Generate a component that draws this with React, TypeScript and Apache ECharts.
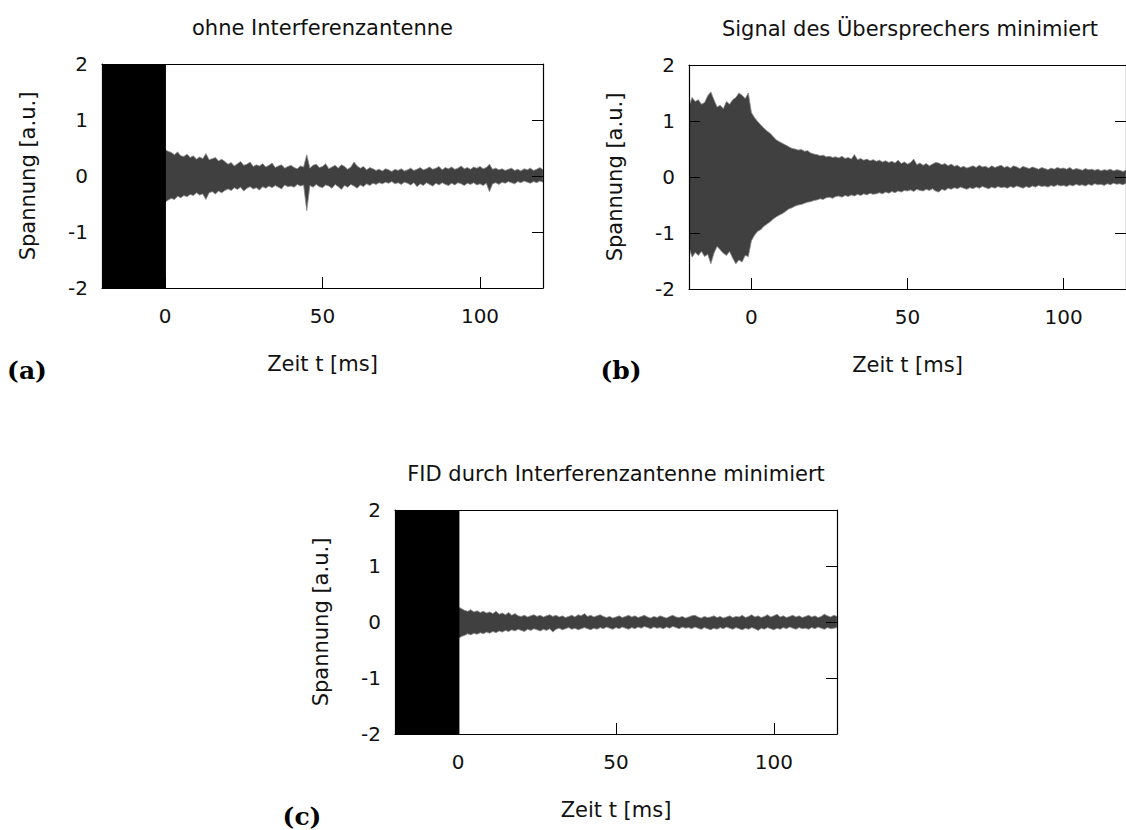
import React, { useEffect, useRef } from "react";
import * as echarts from "echarts";

// ---- Data ----
const xTicks = [0, 50, 100];
const yTicks = [-2, -1, 0, 1, 2];

const titles = [
  "ohne Interferenzantenne",
  "Signal des Übersprechers minimiert",
  "FID durch Interferenzantenne minimiert",
];
const panelTags = ["(a)", "(b)", "(c)"];

// time grid in ms for the post-trigger envelopes (panels a, c)
const timePost = [
  0, 1, 2, 3, 4, 5, 6, 7, 8, 9, 10, 11, 12, 13, 14, 15, 16, 17, 18, 19, 20,
  21, 22, 23, 24, 25, 26, 27, 28, 29, 30, 31, 32, 33, 34, 35, 36, 37, 38, 39, 40,
  41, 42, 43, 44, 45, 46, 47, 48, 49, 50, 51, 52, 53, 54, 55, 56, 57, 58, 59, 60,
  61, 62, 63, 64, 65, 66, 67, 68, 69, 70, 71, 72, 73, 74, 75, 76, 77, 78, 79, 80,
  81, 82, 83, 84, 85, 86, 87, 88, 89, 90, 91, 92, 93, 94, 95, 96, 97, 98, 99, 100,
  101, 102, 103, 104, 105, 106, 107, 108, 109, 110, 111, 112, 113, 114, 115, 116, 117, 118, 119, 120,
];
// time grid for panel b (includes pre-trigger part)
const timeFull = [
  -20, -19, -18, -17, -16, -15, -14, -13, -12, -11, -10, -9, -8, -7, -6, -5, -4, -3, -2, -1,
  ...timePost,
];

// saturated (clipped) pre-trigger block [start, end] in ms, spans the whole y range
const saturatedA = [-20, 0.3];
const saturatedC = [-20, 0.4];

// Panel (a): envelope of the signal
const upperA = [
  0.47, 0.44, 0.42, 0.38, 0.43, 0.36, 0.35, 0.39, 0.33, 0.36, 0.30, 0.34, 0.31, 0.40, 0.29, 0.31, 0.33, 0.27, 0.30, 0.26, 0.21,
  0.24, 0.18, 0.22, 0.26, 0.19, 0.21, 0.25, 0.17, 0.20, 0.18, 0.22, 0.16, 0.19, 0.23, 0.15, 0.18, 0.20, 0.14, 0.17, 0.19,
  0.15, 0.13, 0.18, 0.16, 0.38, 0.14, 0.19, 0.21, 0.15, 0.17, 0.22, 0.13, 0.16, 0.19, 0.14, 0.20, 0.17, 0.12, 0.16, 0.25,
  0.18, 0.14, 0.17, 0.11, 0.15, 0.13, 0.10, 0.12, 0.09, 0.13, 0.11, 0.08, 0.12, 0.10, 0.13, 0.09, 0.11, 0.14, 0.10, 0.12,
  0.15, 0.11, 0.13, 0.16, 0.12, 0.14, 0.17, 0.11, 0.15, 0.13, 0.16, 0.12, 0.14, 0.18, 0.13, 0.15, 0.12, 0.16, 0.14, 0.17,
  0.13, 0.15, 0.21, 0.12, 0.14, 0.11, 0.13, 0.10, 0.12, 0.14, 0.10, 0.12, 0.09, 0.13, 0.11, 0.14, 0.10, 0.12, 0.15, 0.11,
];
const lowerA = [
  -0.47, -0.43, -0.40, -0.42, -0.36, -0.39, -0.35, -0.37, -0.33, -0.35, -0.30, -0.34, -0.32, -0.42, -0.30, -0.28, -0.32, -0.27, -0.30, -0.26, -0.23,
  -0.26, -0.21, -0.24, -0.20, -0.27, -0.22, -0.19, -0.23, -0.21, -0.25, -0.19, -0.22, -0.18, -0.21, -0.17, -0.20, -0.23, -0.16, -0.19, -0.18,
  -0.20, -0.15, -0.18, -0.16, -0.62, -0.17, -0.20, -0.15, -0.19, -0.21, -0.16, -0.18, -0.22, -0.15, -0.19, -0.24, -0.17, -0.20, -0.15, -0.18,
  -0.22, -0.16, -0.19, -0.14, -0.17, -0.13, -0.15, -0.12, -0.14, -0.11, -0.13, -0.10, -0.14, -0.12, -0.15, -0.11, -0.13, -0.16, -0.12, -0.19,
  -0.14, -0.17, -0.12, -0.15, -0.18, -0.13, -0.16, -0.12, -0.15, -0.17, -0.13, -0.16, -0.12, -0.14, -0.17, -0.13, -0.15, -0.12, -0.16, -0.14,
  -0.17, -0.13, -0.28, -0.14, -0.12, -0.15, -0.11, -0.13, -0.10, -0.12, -0.14, -0.10, -0.12, -0.09, -0.11, -0.13, -0.10, -0.12, -0.09, -0.11,
];

// Panel (b): envelope of the signal (-20 .. 120 ms)
const upperB = [
  1.27, 1.42, 1.35, 1.38, 1.30, 1.33, 1.45, 1.52, 1.38, 1.25, 1.28, 1.22, 1.35, 1.30, 1.38, 1.42, 1.50, 1.46, 1.40, 1.50,
  1.15, 1.06, 0.99, 0.93, 0.87, 0.82, 0.78, 0.72, 0.66, 0.63, 0.60, 0.57, 0.54, 0.51, 0.50, 0.48, 0.49, 0.46, 0.47, 0.43, 0.41,
  0.40, 0.38, 0.39, 0.36, 0.37, 0.35, 0.36, 0.34, 0.37, 0.33, 0.35, 0.32, 0.40, 0.31, 0.33, 0.30, 0.32, 0.29, 0.31, 0.28,
  0.30, 0.27, 0.29, 0.26, 0.28, 0.25, 0.30, 0.24, 0.27, 0.23, 0.26, 0.32, 0.22, 0.25, 0.21, 0.24, 0.20, 0.23, 0.26, 0.25,
  0.22, 0.24, 0.20, 0.23, 0.19, 0.21, 0.17, 0.19, 0.16, 0.18, 0.20, 0.17, 0.21, 0.18, 0.19, 0.16, 0.20, 0.17, 0.19, 0.21,
  0.17, 0.19, 0.16, 0.20, 0.18, 0.15, 0.19, 0.17, 0.15, 0.18, 0.16, 0.14, 0.17, 0.15, 0.13, 0.16, 0.14, 0.17, 0.15, 0.16,
  0.14, 0.17, 0.13, 0.15, 0.14, 0.12, 0.15, 0.13, 0.14, 0.12, 0.14, 0.11, 0.13, 0.12, 0.14, 0.11, 0.13, 0.12, 0.10, 0.12,
];
const lowerB = [
  -1.26, -1.43, -1.35, -1.40, -1.33, -1.42, -1.38, -1.55, -1.36, -1.24, -1.30, -1.36, -1.40, -1.33, -1.45, -1.55, -1.48, -1.52, -1.40, -1.42,
  -1.14, -1.04, -0.97, -0.94, -0.88, -0.84, -0.80, -0.75, -0.71, -0.68, -0.65, -0.61, -0.57, -0.55, -0.52, -0.50, -0.49, -0.47, -0.45, -0.44, -0.42,
  -0.41, -0.39, -0.40, -0.37, -0.36, -0.38, -0.35, -0.34, -0.36, -0.33, -0.35, -0.32, -0.34, -0.31, -0.33, -0.30, -0.32, -0.29, -0.31, -0.30,
  -0.28, -0.30, -0.27, -0.29, -0.26, -0.28, -0.25, -0.27, -0.24, -0.25, -0.23, -0.26, -0.22, -0.24, -0.25, -0.22, -0.24, -0.21, -0.25, -0.27,
  -0.22, -0.24, -0.20, -0.22, -0.19, -0.21, -0.18, -0.20, -0.22, -0.19, -0.21, -0.18, -0.20, -0.17, -0.19, -0.21, -0.18, -0.20, -0.17, -0.19,
  -0.18, -0.20, -0.17, -0.19, -0.16, -0.18, -0.20, -0.17, -0.19, -0.16, -0.18, -0.15, -0.17, -0.16, -0.18, -0.15, -0.17, -0.14, -0.16, -0.15,
  -0.17, -0.14, -0.16, -0.13, -0.15, -0.14, -0.16, -0.13, -0.15, -0.12, -0.14, -0.13, -0.15, -0.12, -0.14, -0.11, -0.13, -0.12, -0.14, -0.11,
];

// Panel (c): envelope of the signal
const upperC = [
  0.27, 0.24, 0.21, 0.19, 0.22, 0.18, 0.20, 0.17, 0.19, 0.16, 0.18, 0.15, 0.19, 0.14, 0.16, 0.13, 0.17, 0.12, 0.15, 0.11, 0.10,
  0.12, 0.09, 0.11, 0.13, 0.10, 0.12, 0.09, 0.11, 0.13, 0.10, 0.12, 0.09, 0.11, 0.08, 0.10, 0.12, 0.09, 0.13, 0.11, 0.15,
  0.10, 0.12, 0.09, 0.11, 0.13, 0.10, 0.08, 0.10, 0.07, 0.09, 0.11, 0.08, 0.10, 0.12, 0.09, 0.11, 0.08, 0.10, 0.12, 0.09,
  0.07, 0.10, 0.08, 0.11, 0.09, 0.07, 0.10, 0.12, 0.09, 0.08, 0.10, 0.07, 0.09, 0.11, 0.12, 0.09, 0.07, 0.10, 0.08, 0.09,
  0.11, 0.08, 0.10, 0.07, 0.09, 0.11, 0.08, 0.10, 0.09, 0.12, 0.08, 0.10, 0.13, 0.09, 0.11, 0.08, 0.10, 0.13, 0.09, 0.11,
  0.14, 0.09, 0.11, 0.08, 0.10, 0.12, 0.09, 0.11, 0.08, 0.10, 0.12, 0.09, 0.11, 0.08, 0.10, 0.14, 0.11, 0.09, 0.12, 0.10,
];
const lowerC = [
  -0.30, -0.26, -0.24, -0.21, -0.23, -0.20, -0.22, -0.19, -0.21, -0.18, -0.20, -0.17, -0.19, -0.16, -0.18, -0.15, -0.17, -0.14, -0.16, -0.13, -0.15,
  -0.17, -0.13, -0.15, -0.12, -0.14, -0.16, -0.13, -0.15, -0.12, -0.18, -0.13, -0.11, -0.14, -0.12, -0.10, -0.13, -0.11, -0.14, -0.12, -0.10,
  -0.12, -0.14, -0.11, -0.13, -0.10, -0.12, -0.09, -0.11, -0.13, -0.10, -0.12, -0.09, -0.11, -0.13, -0.10, -0.12, -0.09, -0.11, -0.08, -0.10,
  -0.12, -0.09, -0.11, -0.10, -0.12, -0.09, -0.11, -0.08, -0.10, -0.12, -0.09, -0.11, -0.10, -0.12, -0.09, -0.11, -0.13, -0.10, -0.12, -0.14,
  -0.11, -0.13, -0.10, -0.12, -0.09, -0.11, -0.13, -0.10, -0.12, -0.14, -0.11, -0.13, -0.10, -0.12, -0.15, -0.11, -0.13, -0.10, -0.12, -0.14,
  -0.11, -0.13, -0.10, -0.12, -0.09, -0.11, -0.13, -0.10, -0.12, -0.11, -0.13, -0.10, -0.12, -0.09, -0.11, -0.13, -0.10, -0.12, -0.11, -0.10,
];

// ---- Styling / layout ----
const FONT = "DejaVu Sans";
const TEXT = "#111";
const BAND_FILL = "#404040";
const BAND_EDGE = "#8c8c8c";

const grids = [
  { left: 102, top: 64, width: 441, height: 224 },
  { left: 689, top: 65, width: 442, height: 224 },
  { left: 395, top: 510, width: 442, height: 224 },
];

function App() {
  const ref = useRef<HTMLDivElement>(null);

  useEffect(() => {
    if (!ref.current) return;
    const chart = echarts.init(ref.current, undefined, { renderer: "svg" });

    const xAxes: any[] = [];
    const yAxes: any[] = [];
    grids.forEach((_, gi) => {
      xAxes.push({
        type: "value",
        gridIndex: gi,
        position: "bottom",
        min: -20,
        max: 120,
        name: "Zeit t [ms]",
        nameLocation: "middle",
        nameGap: 65,
        nameTextStyle: { fontFamily: FONT, fontSize: 21, color: TEXT },
        axisLine: { show: true, onZero: false, lineStyle: { color: "#000", width: 1.2 } },
        axisTick: { show: true, inside: true, length: 11, customValues: xTicks, lineStyle: { color: "#000", width: 1 } },
        axisLabel: { customValues: xTicks, fontFamily: FONT, fontSize: 20, color: TEXT, margin: 18 },
        splitLine: { show: false },
        z: 5,
      });
      xAxes.push({
        type: "value",
        gridIndex: gi,
        position: "top",
        min: -20,
        max: 120,
        axisLine: { show: true, onZero: false, lineStyle: { color: "#000", width: 1.2 } },
        axisTick: { show: false },
        axisLabel: { show: false },
        splitLine: { show: false },
        z: 5,
      });
      yAxes.push({
        type: "value",
        gridIndex: gi,
        position: "left",
        min: -2,
        max: 2,
        interval: 1,
        name: "Spannung [a.u.]",
        nameLocation: "middle",
        nameGap: 64,
        nameTextStyle: { fontFamily: FONT, fontSize: 21, color: TEXT },
        axisLine: { show: true, onZero: false, lineStyle: { color: "#000", width: 1.2 } },
        axisTick: { show: true, inside: true, length: 11, lineStyle: { color: "#000", width: 1 } },
        axisLabel: { fontFamily: FONT, fontSize: 20, color: TEXT, margin: 14 },
        splitLine: { show: false },
        z: 5,
      });
      yAxes.push({
        type: "value",
        gridIndex: gi,
        position: "right",
        min: -2,
        max: 2,
        interval: 1,
        axisLine: { show: true, onZero: false, lineStyle: { color: "#000", width: 1.2 } },
        axisTick: { show: true, inside: true, length: 11, lineStyle: { color: "#000", width: 1 } },
        axisLabel: { show: false },
        splitLine: { show: false },
        z: 5,
      });
    });

    const band = (gi: number, times: number[], upper: number[], lower: number[]) => ({
      type: "custom",
      xAxisIndex: gi * 2,
      yAxisIndex: gi * 2,
      clip: true,
      silent: true,
      data: [[times[0], 0]],
      renderItem: (_p: any, api: any) => {
        const pts: number[][] = [];
        for (let i = 0; i < times.length; i++) pts.push(api.coord([times[i], upper[i]]));
        for (let i = times.length - 1; i >= 0; i--) pts.push(api.coord([times[i], lower[i]]));
        return {
          type: "polygon",
          shape: { points: pts },
          style: { fill: BAND_FILL, stroke: BAND_EDGE, lineWidth: 0.8 },
        };
      },
    });

    const saturated = (gi: number, span: number[]) => ({
      type: "custom",
      xAxisIndex: gi * 2,
      yAxisIndex: gi * 2,
      clip: true,
      silent: true,
      data: [[span[0], 0]],
      renderItem: (_p: any, api: any) => {
        const p0 = api.coord([span[0], yTicks[yTicks.length - 1]]);
        const p1 = api.coord([span[1], yTicks[0]]);
        return {
          type: "rect",
          shape: { x: p0[0], y: p0[1], width: p1[0] - p0[0], height: p1[1] - p0[1] },
          style: { fill: "#000" },
        };
      },
    });

    const graphics: any[] = [];
    grids.forEach((g, gi) => {
      graphics.push({
        type: "text",
        x: g.left + g.width / 2,
        y: g.top - 36,
        style: {
          text: titles[gi],
          fontFamily: FONT,
          fontSize: 21,
          fill: TEXT,
          textAlign: "center",
          textVerticalAlign: "middle",
        },
      });
    });
    const tagPos = [
      [27, 370],
      [621, 370],
      [302, 816],
    ];
    tagPos.forEach((p, i) => {
      graphics.push({
        type: "text",
        x: p[0],
        y: p[1],
        style: {
          text: panelTags[i],
          fontFamily: "DejaVu Serif",
          fontWeight: "bold",
          fontSize: 25,
          fill: "#000",
          textAlign: "center",
          textVerticalAlign: "middle",
        },
      });
    });

    chart.setOption({
      animation: false,
      backgroundColor: "#fff",
      grid: grids.map((g) => ({ ...g, containLabel: false })),
      xAxis: xAxes,
      yAxis: yAxes,
      series: [
        band(0, timePost, upperA, lowerA),
        saturated(0, saturatedA),
        band(1, timeFull, upperB, lowerB),
        band(2, timePost, upperC, lowerC),
        saturated(2, saturatedC),
      ],
      graphic: graphics,
    });

    return () => chart.dispose();
  }, []);

  return (
    <div
      ref={ref}
      style={{ position: "fixed", left: 0, top: 0, width: 1126, height: 830, background: "#fff" }}
    />
  );
}

export default App;
